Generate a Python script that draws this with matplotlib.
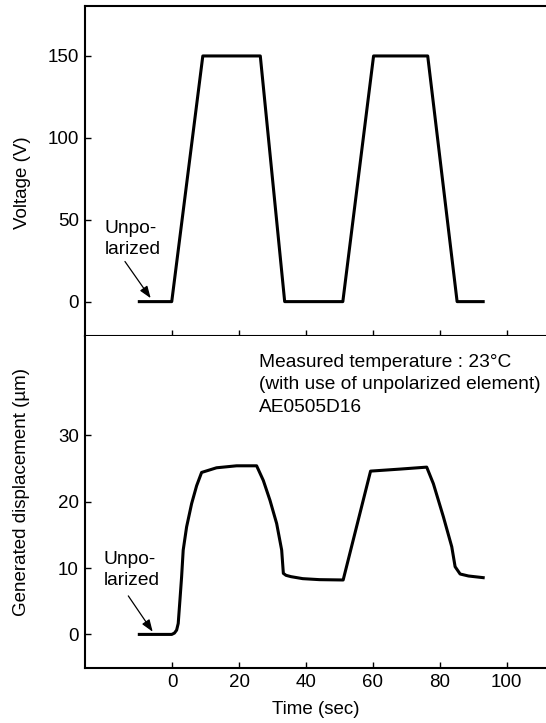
import matplotlib.pyplot as plt

plt.rcParams['font.family'] = ['Liberation Sans', 'DejaVu Sans']

# voltage trace (sec, V)
t_volt = [-9.9, -0.2, 9.1, 26.3, 33.6, 51.0, 60.2, 76.4, 85.2, 93.0]
volt = [0, 0, 150, 150, 0, 0, 150, 150, 0, 0]

# displacement trace (sec, um)
t_disp = [-9.9, -0.2, 0.6, 1.26, 1.74, 2.25, 2.75, 3.23, 4.25, 5.75, 7.25, 8.74,
          13.2, 19.2, 25.2, 27.2, 29.2, 31.2, 32.7, 33.2, 34.0, 35.5, 39.0, 44.0,
          51.1, 59.3, 68.0, 76.1, 78.1, 81.1, 83.6, 84.6, 86.1, 88.6, 93.0]
disp = [0, 0, 0.2, 0.65, 1.65, 5.15, 8.65, 12.7, 16.2, 19.7, 22.4, 24.4,
        25.1, 25.4, 25.4, 23.2, 20.2, 16.7, 12.7, 9.2, 8.9, 8.7, 8.4, 8.25,
        8.2, 24.6, 24.9, 25.2, 22.7, 17.7, 13.2, 10.2, 9.1, 8.8, 8.55]

xticks = [0, 20, 40, 60, 80, 100]
volt_ticks = [0, 50, 100, 150]
disp_ticks = [0, 10, 20, 30]

fig = plt.figure(figsize=(5.46, 7.23), dpi=100)
ax1 = fig.add_axes([0.1548, 0.5357, 0.8452, 0.456])
ax2 = fig.add_axes([0.1548, 0.0757, 0.8452, 0.460])

for ax in (ax1, ax2):
    ax.set_xlim(-26.3, 111.8)
    ax.set_xticks(xticks)
    ax.tick_params(direction='in', length=4, width=1, labelsize=13.5, pad=4)
    ax.spines['right'].set_visible(False)
    for s in ('left', 'bottom', 'top'):
        ax.spines[s].set_linewidth(1.5)

arrow = dict(arrowstyle='-|>,head_length=0.6,head_width=0.22', color='black',
             lw=0.9, shrinkA=0, shrinkB=0, mutation_scale=12)

ax1.plot(t_volt, volt, color='black', lw=2.2)
ax1.set_ylim(-20.8, 180.5)
ax1.set_yticks(volt_ticks)
ax1.tick_params(axis='x', labelbottom=False)
ax1.set_ylabel('Voltage (V)', fontsize=13.5)
ax1.yaxis.set_label_coords(-0.117, 0.465)
ax1.text(-20.2, 38.0, 'Unpo-\nlarized', ha='left', va='center', fontsize=13.8,
         linespacing=1.3)
ax1.annotate('', xy=(-6.5, 2.1), xytext=(-14.2, 24.5), arrowprops=arrow)

ax2.plot(t_disp, disp, color='black', lw=2.2)
ax2.set_ylim(-5.1, 45.0)
ax2.set_yticks(disp_ticks)
ax2.spines['top'].set_visible(False)
ax2.set_ylabel('Generated displacement (\u00b5m)', fontsize=13.5)
ax2.yaxis.set_label_coords(-0.119, 0.529)
ax2.set_xlabel('Time (sec)', fontsize=13.5)
ax2.xaxis.set_label_coords(0.5, -0.098)
ax2.text(-20.5, 9.7, 'Unpo-\nlarized', ha='left', va='center', fontsize=13.8,
         linespacing=1.3)
ax2.annotate('', xy=(-5.9, 0.4), xytext=(-13.2, 5.8), arrowprops=arrow)
ax2.text(25.9, 42.3, 'Measured temperature : 23\u00b0C\n(with use of unpolarized element)\nAE0505D16',
         ha='left', va='top', fontsize=13.8, linespacing=1.45)

fig.savefig('out.png', dpi=100)
